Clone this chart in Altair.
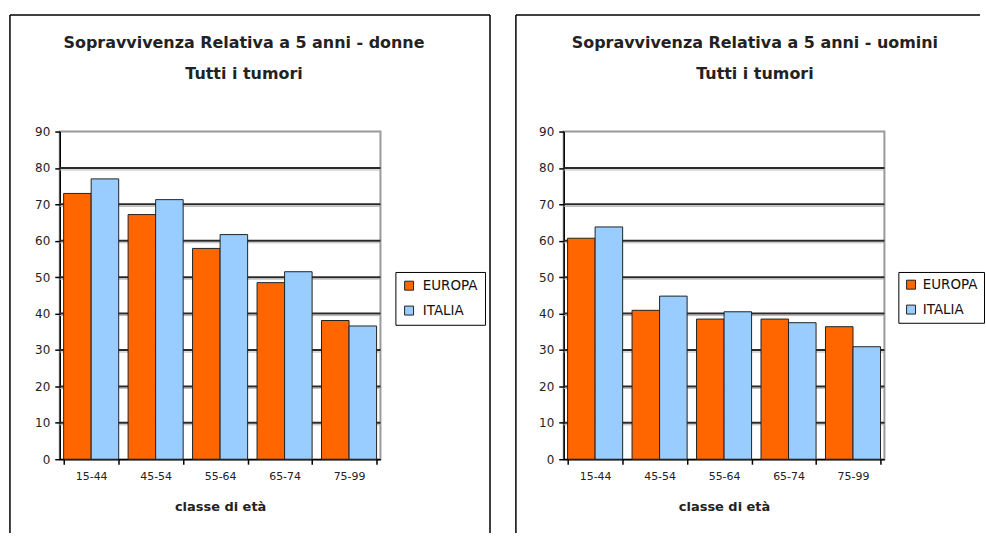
import altair as alt
import pandas as pd

# ---------------- data ----------------
ages = ["15-44", "45-54", "55-64", "65-74", "75-99"]
series = ["EUROPA", "ITALIA"]
donne_europa = [73.0, 67.2, 57.9, 48.5, 38.1]
donne_italia = [77.0, 71.3, 61.7, 51.5, 36.6]
uomini_europa = [60.7, 40.9, 38.5, 38.5, 36.4]
uomini_italia = [63.8, 44.8, 40.5, 37.5, 30.9]
titles_donne = ["Sopravvivenza Relativa a 5 anni - donne", "Tutti i tumori"]
titles_uomini = ["Sopravvivenza Relativa a 5 anni - uomini", "Tutti i tumori"]
x_title = "classe di età"
y_ticks = [0, 10, 20, 30, 40, 50, 60, 70, 80, 90]
grid_values = [10, 20, 30, 40, 50, 60, 70, 80]
colors = ["#FF6600", "#99CCFF"]

FONT = "DejaVu Sans"
W, H = 322, 329


def panel(eu, it, titles, title_cx, frame_left, frame_right, draw_right,
          legend_x, legend_pad, legend_offset):
    df = pd.DataFrame({
        "classe": ages * 2,
        "serie": [series[0]] * len(ages) + [series[1]] * len(ages),
        "valore": eu + it,
    })
    yscale = alt.Scale(domain=[0, 90], nice=False, zero=True)
    yaxis = alt.Axis(values=y_ticks, title=None, grid=False,
                     tickSize=5, labelPadding=5, labelFontSize=12)
    grid_df = pd.DataFrame({"v": grid_values})
    one = pd.DataFrame({"k": [0]})

    shadow = alt.Chart(grid_df).mark_rule(color="#b5b5b5", strokeWidth=1, yOffset=2).encode(
        y=alt.Y("v:Q", scale=yscale, axis=yaxis, title=None))
    grid = alt.Chart(grid_df).mark_rule(color="#2a2a2a", strokeWidth=2).encode(
        y=alt.Y("v:Q", scale=yscale, axis=yaxis, title=None))

    bars = alt.Chart(df).mark_bar(stroke="#222222", strokeWidth=1).encode(
        x=alt.X("classe:N", sort=ages,
                scale=alt.Scale(paddingInner=0.146, paddingOuter=0.06),
                axis=alt.Axis(title=x_title, labelAngle=0, tickBand="extent",
                              tickSize=5, labelPadding=6, titlePadding=19,
                              labelFontSize=11, titleFontSize=13,
                              titleFontWeight="bold", grid=False)),
        xOffset=alt.XOffset("serie:N", sort=series,
                            scale=alt.Scale(paddingInner=0, paddingOuter=0)),
        y=alt.Y("valore:Q", scale=yscale, axis=yaxis, title=None),
        color=alt.Color("serie:N",
                        scale=alt.Scale(domain=series, range=colors),
                        legend=alt.Legend(title=None, orient="none",
                                          legendX=legend_x, legendY=141,
                                          strokeColor="black", fillColor="white",
                                          padding=legend_pad,
                                          labelOffset=legend_offset,
                                          symbolType="square", symbolSize=81,
                                          symbolStrokeColor="#222222",
                                          symbolStrokeWidth=1,
                                          labelFont=FONT, labelFontSize=13.5,
                                          labelColor="#111111",
                                          rowPadding=10)),
    )

    frame_layers = [
        alt.Chart(one).mark_rule(color="black", strokeWidth=1.5).encode(
            x=alt.value(frame_left), x2=alt.value(frame_right), y=alt.value(-117)),
        alt.Chart(one).mark_rule(color="black", strokeWidth=1.5).encode(
            x=alt.value(frame_left), y=alt.value(-117), y2=alt.value(403)),
    ]
    if draw_right:
        frame_layers.append(
            alt.Chart(one).mark_rule(color="black", strokeWidth=1.5).encode(
                x=alt.value(frame_right), y=alt.value(-117), y2=alt.value(403)))

    t1 = alt.Chart(pd.DataFrame({"t": [titles[0]]})).mark_text(
        font=FONT, fontSize=16, fontWeight="bold", color="#222222",
        align="center", baseline="middle").encode(
        text="t:N", x=alt.value(title_cx), y=alt.value(-89))
    t2 = alt.Chart(pd.DataFrame({"t": [titles[1]]})).mark_text(
        font=FONT, fontSize=16, fontWeight="bold", color="#222222",
        align="center", baseline="middle").encode(
        text="t:N", x=alt.value(title_cx), y=alt.value(-58))

    return alt.layer(shadow, grid, bars, *frame_layers, t1, t2).properties(
        width=W, height=H)


left = panel(donne_europa, donne_italia, titles_donne, 185, -50, 432, True,
             337, 7, 7)
right = panel(uomini_europa, uomini_italia, titles_uomini, 192, -48, 418, False,
              336, 6, 5)

chart = alt.hconcat(left, right, spacing=184, bounds="flush").resolve_scale(
    x="independent", y="independent", color="independent"
).resolve_legend(color="independent").properties(
    padding={"left": 8, "top": 12, "right": 0, "bottom": 0},
    background="white",
).configure_view(
    stroke="#999999", strokeWidth=2
).configure_axis(
    labelFont=FONT, titleFont=FONT, labelColor="#222222", titleColor="#222222",
    domainColor="black", domainWidth=1.5, tickColor="black", tickWidth=1.5,
)

chart.save("out.html", embed_options={"renderer": "svg", "actions": False})
